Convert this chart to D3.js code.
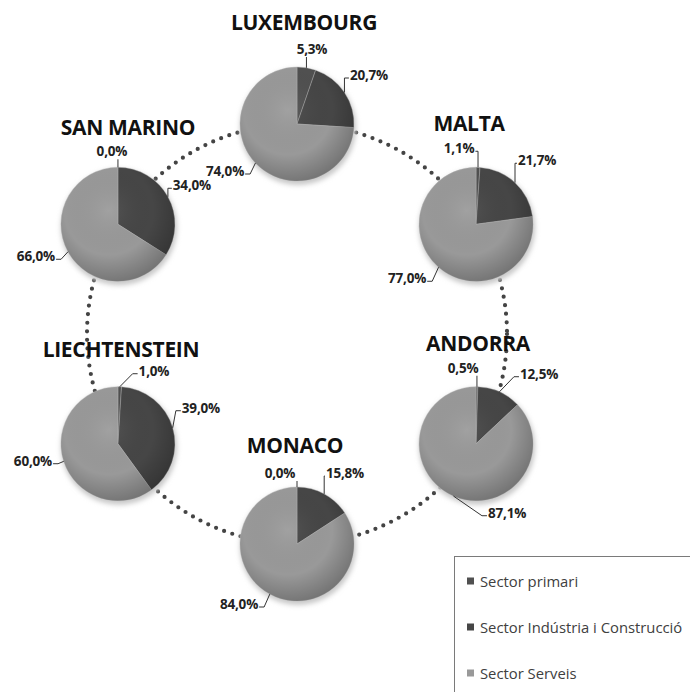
<!DOCTYPE html>
<html lang="ca">
<head>
<meta charset="UTF-8">
<title>Sectors per país</title>
<script src="https://d3js.org/d3.v7.min.js"></script>
<style>
  html, body { margin: 0; padding: 0; background: #fff; }
  svg { display: block; }
  .title { font: bold 21px "Open Sans", Lato, sans-serif; fill: #111; letter-spacing: -0.3px; }
  .lbl { font: bold 13.5px "Open Sans", Lato, sans-serif; fill: #222; letter-spacing: -0.2px; }
  .legend text { font: 14.8px "Open Sans", Lato, sans-serif; fill: #404040; }
</style>
</head>
<body>
<svg width="690" height="692"></svg>
<script>
// countries, in order round the ring (clockwise from the top)
const countries = ["LUXEMBOURG", "MALTA", "ANDORRA", "MONACO", "LIECHTENSTEIN", "SAN MARINO"];
const sectors = ["Sector primari", "Sector Indústria i Construcció", "Sector Serveis"];

// shares (%) per country, same order as countries
const primari   = [5.3, 1.1, 0.5, 0.0, 1.0, 0.0];
const industria = [20.7, 21.7, 12.5, 15.8, 39.0, 34.0];
const serveis   = [74.0, 77.0, 87.1, 84.0, 60.0, 66.0];

// layout only: ring angles (deg), title and label offsets from each pie centre
const ringAngles = [-90, -31.5, 31.5, 90, 148.5, 211.5];
const titleOffsets = [[7, -102], [-7, -101], [2, -101], [-2, -99], [3, -95], [10, -97]];
const labelOffsets = [
  [[15, -75], [72, -49], [-72, 47]],
  [[-17, -76], [61, -64], [-69, 54]],
  [[-13, -76], [63, -70], [31, 69]],
  [[-17, -71], [48, -71], [-58, 60]],
  [[36, -73], [83, -36], [-85, 17]],
  [[-6, -73], [74, -39], [-82, 32]]
];

const colors = ["#505050", "#464646", "#999999"];
const ring = {x: 297, y: 334, r: 210};
const r = 57;

const svg = d3.select("svg");
const defs = svg.append("defs");

const shade = defs.append("radialGradient").attr("id", "shade")
  .attr("cx", "42%").attr("cy", "38%").attr("r", "65%");
shade.append("stop").attr("offset", "0%").attr("stop-color", "#fff").attr("stop-opacity", 0.08);
shade.append("stop").attr("offset", "60%").attr("stop-color", "#000").attr("stop-opacity", 0);
shade.append("stop").attr("offset", "100%").attr("stop-color", "#000").attr("stop-opacity", 0.25);

const blur = defs.append("filter").attr("id", "soft")
  .attr("x", "-30%").attr("y", "-30%").attr("width", "160%").attr("height", "160%");
blur.append("feGaussianBlur").attr("stdDeviation", 2.5);

// dotted ring behind the pies
svg.append("circle")
  .attr("cx", ring.x).attr("cy", ring.y).attr("r", ring.r)
  .attr("fill", "none")
  .attr("stroke", "#444")
  .attr("stroke-width", 4.2)
  .attr("stroke-linecap", "round")
  .attr("stroke-dasharray", "0 8.6");

const pie = d3.pie().sort(null).value(d => d.value);
const arc = d3.arc().innerRadius(0).outerRadius(r);
const fmt = v => d3.format(".1f")(v).replace(".", ",") + "%";

countries.forEach((name, i) => {
  const a = ringAngles[i] * Math.PI / 180;
  const cx = ring.x + ring.r * Math.cos(a);
  const cy = ring.y + ring.r * Math.sin(a);
  const vals = [primari[i], industria[i], serveis[i]].map((v, k) => ({value: v, k: k}));
  const arcs = pie(vals);

  const g = svg.append("g").attr("transform", `translate(${cx},${cy})`);

  g.append("circle").attr("cx", 1).attr("cy", 3).attr("r", r + 1)
    .attr("fill", "#c8c8c8").attr("filter", "url(#soft)");

  g.selectAll("path.slice")
    .data(arcs)
    .join("path")
    .attr("class", "slice")
    .attr("d", arc)
    .attr("fill", d => colors[d.data.k])
    .attr("stroke", "#b5b5b5")
    .attr("stroke-width", 0.4);

  g.append("circle").attr("r", r).attr("fill", "url(#shade)");

  g.append("text")
    .attr("class", "title")
    .attr("x", titleOffsets[i][0]).attr("y", titleOffsets[i][1])
    .attr("text-anchor", "middle")
    .attr("dominant-baseline", "central")
    .text(name);

  arcs.forEach((d, k) => {
    const off = labelOffsets[i][k];
    const t = g.append("text")
      .attr("class", "lbl")
      .attr("x", off[0]).attr("y", off[1])
      .attr("text-anchor", "middle")
      .attr("dominant-baseline", "central")
      .text(fmt(d.data.value));
    const bb = t.node().getBBox();
    const mid = (d.startAngle + d.endAngle) / 2;
    const p = [r * Math.sin(mid), -r * Math.cos(mid)];
    let pts;
    if (p[0] >= bb.x + 1 && p[0] <= bb.x + bb.width + 3 && p[1] > bb.y + bb.height) {
      pts = [p, [p[0], bb.y + bb.height - 1]];
    } else if (p[0] < bb.x + 1) {
      const h = [bb.x - 1, off[1] + 3];
      pts = [p, [Math.max(p[0], h[0] - 5), h[1]], h];
    } else {
      const h = [bb.x + bb.width + 1, off[1] + 3];
      pts = [p, [Math.min(p[0], h[0] + 5), h[1]], h];
    }
    g.append("path")
      .attr("d", d3.line()(pts))
      .attr("fill", "none")
      .attr("stroke", "#333")
      .attr("stroke-width", 1);
  });
});

// legend box (runs off the right / bottom edge like the original)
const lg = svg.append("g").attr("class", "legend");
lg.append("rect")
  .attr("x", 454.5).attr("y", 556.5)
  .attr("width", 260).attr("height", 160)
  .attr("fill", "#fff").attr("stroke", "#7a7a7a");

const ly = d3.scalePoint().domain(sectors).range([581, 673]);
const item = lg.selectAll("g.item").data(sectors).join("g")
  .attr("class", "item")
  .attr("transform", d => `translate(467,${ly(d)})`);
item.append("rect").attr("x", 0).attr("y", -3.5).attr("width", 7).attr("height", 7)
  .attr("fill", (d, k) => colors[k]);
item.append("text").attr("x", 13).attr("y", 0)
  .attr("dominant-baseline", "central")
  .text(d => d);
</script>
</body>
</html>
